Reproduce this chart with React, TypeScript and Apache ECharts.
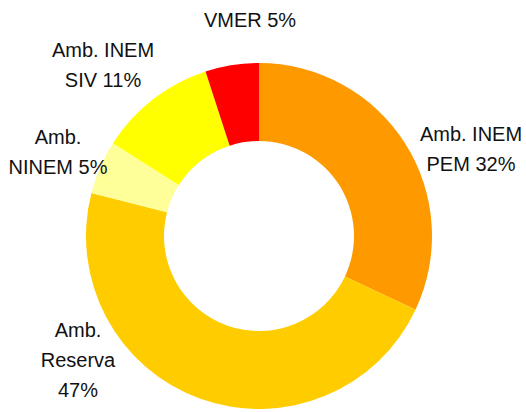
import React, { useEffect, useRef } from "react";
import * as echarts from "echarts";

const categories = ["Amb. INEM\nPEM", "Amb.\nReserva", "Amb.\nNINEM", "Amb. INEM\nSIV", "VMER"];
const values = [32, 47, 5, 11, 5];
const percentSeparators = [" ", "\n", " ", " ", " "];
const colors = ["#FF9900", "#FFCC00", "#FFFF99", "#FFFF00", "#FF0000"];
const labelPositions = [
  [471, 149],
  [78, 360],
  [58, 152],
  [103, 65],
  [250, 20],
];

export default function App() {
  const ref = useRef<HTMLDivElement>(null);
  useEffect(() => {
    if (!ref.current) return;
    const chart = echarts.init(ref.current, undefined, { renderer: "svg" });
    chart.setOption({
      animation: false,
      backgroundColor: "#ffffff",
      series: [
        {
          type: "pie",
          center: [259, 236],
          radius: [95, 173],
          startAngle: 90,
          clockwise: true,
          silent: true,
          avoidLabelOverlap: false,
          data: categories.map((name, i) => ({
            name,
            value: values[i],
            itemStyle: { color: colors[i] },
          })),
          label: {
            show: true,
            position: "outside",
            overflow: "none",
            formatter: (p: any) => `${p.name}${percentSeparators[p.dataIndex]}${p.value}%`,
            fontFamily: "'Liberation Sans', Arial, sans-serif",
            fontSize: 20,
            lineHeight: 30,
            color: "#111111",
            align: "center",
          },
          labelLine: { show: false },
          labelLayout: (params: any) => {
            const pos = labelPositions[params.dataIndex];
            return { x: pos[0], y: pos[1], align: "center", verticalAlign: "middle" };
          },
        },
      ],
    });
    return () => chart.dispose();
  }, []);
  return (
    <div
      ref={ref}
      style={{ position: "fixed", left: 0, top: 0, width: 526, height: 412, background: "#fff" }}
    />
  );
}
